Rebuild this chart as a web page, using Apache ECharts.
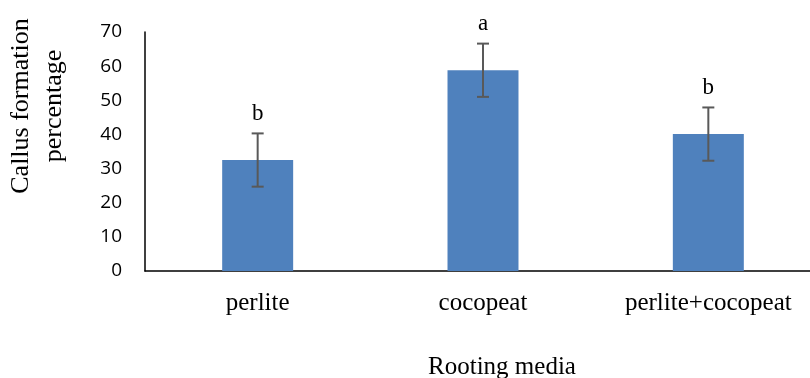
<!DOCTYPE html>
<html>
<head>
<meta charset="utf-8">
<script src="https://cdn.jsdelivr.net/npm/echarts@6/dist/echarts.min.js"></script>
<style>
  html, body { margin: 0; padding: 0; background: #fff; }
  #chart { width: 810px; height: 378px; }
</style>
</head>
<body>
<div id="chart"></div>
<script>
// Callus formation (%) by rooting medium, mean ± error with significance letters
const categories = ['perlite', 'cocopeat', 'perlite+cocopeat'];
const means = [32.5, 58.8, 40.1];
const errors = [7.8, 7.8, 7.8];
const letters = ['b', 'a', 'b'];
const yTicks = [0, 10, 20, 30, 40, 50, 60, 70];

const serif = '"Liberation Serif", "Times New Roman", serif';

const chart = echarts.init(document.getElementById('chart'));

const errData = categories.map((c, i) => [i, means[i], errors[i], letters[i]]);

chart.setOption({
  animation: false,
  grid: { left: 145, top: 32, width: 676, height: 239, containLabel: false, outerBoundsMode: 'none' },
  graphic: [{
    type: 'text',
    x: 38, y: 106,
    rotation: Math.PI / 2,
    style: {
      text: 'Callus formation\npercentage',
      fontFamily: serif, fontSize: 26, lineHeight: 33, fill: '#000',
      align: 'center', verticalAlign: 'middle'
    }
  }],
  xAxis: {
    type: 'category',
    data: categories,
    axisLine: { lineStyle: { color: '#000', width: 1.5 } },
    axisTick: { show: false },
    axisLabel: { fontFamily: serif, fontSize: 25, color: '#000', margin: 20 },
    name: 'Rooting media',
    nameLocation: 'middle',
    nameGap: 84,
    nameTextStyle: { fontFamily: serif, fontSize: 25, color: '#000', padding: [0, 0, 0, 38] }
  },
  yAxis: {
    type: 'value',
    min: yTicks[0],
    max: yTicks[yTicks.length - 1],
    interval: 10,
    axisLine: { show: true, lineStyle: { color: '#000', width: 1.5 } },
    axisTick: { show: false },
    splitLine: { show: false },
    axisLabel: { fontFamily: '"Open Sans", sans-serif', fontSize: 19, color: '#000', margin: 23 }
  },
  series: [
    {
      type: 'bar',
      data: means,
      barWidth: '31.5%',
      itemStyle: { color: '#4f81bd' },
      z: 2
    },
    {
      type: 'custom',
      data: errData,
      z: 5,
      renderItem: function (params, api) {
        const idx = api.value(0);
        const m = api.value(1);
        const e = api.value(2);
        const hi = api.coord([idx, m + e]);
        const lo = api.coord([idx, m - e]);
        const cap = 6;
        const style = { stroke: '#595959', lineWidth: 2 };
        return {
          type: 'group',
          children: [
            { type: 'line', shape: { x1: hi[0], y1: hi[1], x2: lo[0], y2: lo[1] }, style: style },
            { type: 'line', shape: { x1: hi[0] - cap, y1: hi[1], x2: hi[0] + cap, y2: hi[1] }, style: style },
            { type: 'line', shape: { x1: lo[0] - cap, y1: lo[1], x2: lo[0] + cap, y2: lo[1] }, style: style },
            {
              type: 'text',
              x: hi[0], y: hi[1] - 8,
              style: {
                text: letters[params.dataIndex],
                fontFamily: serif, fontSize: 23, fill: '#000',
                align: 'center', verticalAlign: 'bottom'
              }
            }
          ]
        };
      }
    }
  ]
});
</script>
</body>
</html>
